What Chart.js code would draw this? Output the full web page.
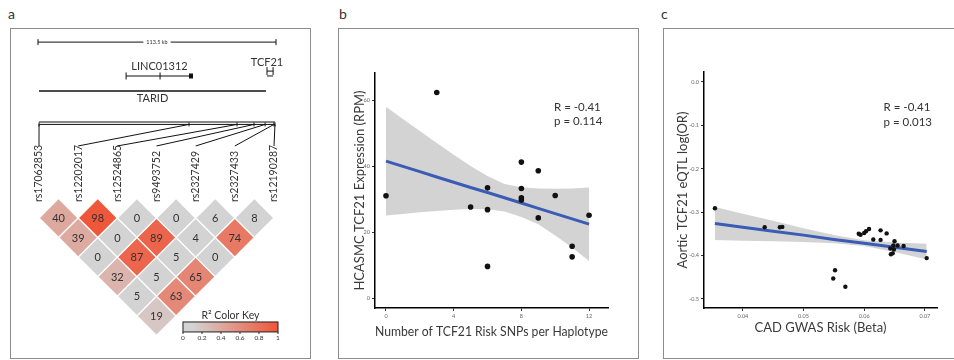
<!DOCTYPE html>
<html>
<head>
<meta charset="utf-8">
<script src="https://cdn.jsdelivr.net/npm/chart.js@4.4.0/dist/chart.umd.min.js"></script>
<style>
body{margin:0;width:954px;height:360px;background:#fff;position:relative;overflow:hidden;font-family:Lato,sans-serif;}
.lbl{position:absolute;font-size:14px;color:#333;line-height:16px;}
.box{position:absolute;border:1px solid #8c8c8c;box-sizing:border-box;}
canvas{position:absolute;}
</style>
</head>
<body>
<div class="lbl" style="left:8px;top:6px">a</div>
<div class="lbl" style="left:339px;top:6px">b</div>
<div class="lbl" style="left:661px;top:6px">c</div>
<div class="box" style="left:10px;top:28px;width:301px;height:331px"></div>
<div class="box" style="left:338px;top:28px;width:301px;height:331px"></div>
<div class="box" style="left:663px;top:28px;width:300px;height:331px"></div>
<canvas id="ldChart" width="300" height="330" style="left:10px;top:28px"></canvas>
<canvas id="exprChart" width="300" height="320" style="left:338px;top:28px"></canvas>
<canvas id="eqtlChart" width="291" height="320" style="left:663px;top:28px"></canvas>
<script>
// ---- panel a : LD block ----
const snpNames = ['rs17062853','rs12202017','rs12524865','rs9493752','rs2327429','rs2327433','rs12190287'];
const snpKb = [0.5, 72.0, 94.9, 103.0, 108.3, 112.5, 113.0];
// r2 * 100, row k holds the pairs (i, i+k+1)
const ldRows = [
  [40, 98, 0, 0, 6, 8],
  [39, 0, 89, 4, 74],
  [0, 87, 5, 0],
  [32, 5, 65],
  [5, 63],
  [19]
];
const regionKb = 113.5;
const lincKb = [42.0, 58.2, 73.9];
const lincExonKb = [72.0, 73.9];
const taridKb = [0.5, 108.7];
const tcf21Kb = [109.2, 112.1];
const keyTicks = [0, 0.2, 0.4, 0.6, 0.8, 1];

// ---- panel b ----
const riskSnps = [0, 3, 5, 6, 6, 6, 8, 8, 8, 8, 9, 9, 10, 11, 11, 12];
const exprRpm = [31.0, 62.3, 27.6, 33.4, 26.8, 9.6, 41.2, 33.2, 30.4, 29.7, 38.6, 24.3, 31.1, 15.7, 12.5, 25.1];
const fitBx = [0, 1, 2, 3, 4, 5, 6, 7, 8, 9, 10, 11, 12];
const fitB = [41.5, 39.9, 38.3, 36.7, 35.1, 33.5, 32.0, 30.4, 28.8, 27.2, 25.6, 24.0, 22.4];
const bandBHi = [58.0, 54.3, 50.6, 47.0, 43.4, 40.0, 37.0, 34.6, 33.6, 33.2, 33.1, 33.2, 33.5];
const bandBLo = [25.0, 25.5, 26.0, 26.4, 26.8, 27.0, 26.9, 26.2, 24.6, 22.4, 19.0, 15.3, 11.2];
const ticksBx = [0, 4, 8, 12];
const ticksBy = [0, 20, 40, 60];
const statsB = ['R = -0.41', 'p = 0.114'];

// ---- panel c ----
const cadBeta = [0.0354, 0.0436, 0.0461, 0.0465, 0.0591, 0.0594, 0.0600, 0.0603, 0.0608, 0.0615, 0.0627, 0.0627,
  0.0637, 0.0650, 0.0648, 0.0655, 0.0665, 0.0643, 0.0649, 0.0644, 0.0647, 0.0703, 0.0552, 0.0549, 0.0569];
const eqtlLogOR = [-0.291, -0.335, -0.335, -0.334, -0.350, -0.352, -0.348, -0.344, -0.339, -0.363, -0.342, -0.364,
  -0.349, -0.367, -0.377, -0.377, -0.378, -0.384, -0.386, -0.397, -0.395, -0.406, -0.434, -0.453, -0.472];
const fitCx = [0.0354, 0.040, 0.045, 0.050, 0.055, 0.060, 0.065, 0.0703];
const fitC = [-0.326, -0.335, -0.344, -0.353, -0.363, -0.372, -0.381, -0.391];
const bandCHi = [-0.288, -0.304, -0.320, -0.337, -0.353, -0.365, -0.370, -0.373];
const bandCLo = [-0.364, -0.366, -0.367, -0.369, -0.372, -0.378, -0.392, -0.409];
const ticksCx = [0.04, 0.05, 0.06, 0.07];
const ticksCy = [0, -0.1, -0.2, -0.3, -0.4, -0.5];
const statsC = ['R = -0.41', 'p = 0.013'];

// row levels of the gene track, in cell units (y grows downwards)
const rows = {scale: -3.99, lincLabel: -3.36, linc: -3.125, tcfLabel: -3.48, tcfTop: -3.25, tcfBot: -3.125,
  taridLabel: -2.54, tarid: -2.742, bracket: -1.95, bracket2: -1.888, connEnd: -1.338, snpLabel: 0.092};
const key = {x0: 3.676, x1: 6.102, y0: 3.155, y1: 3.41, title: 3.0, tickLab: 3.56};

const grayC = [211, 211, 211], redC = [240, 84, 56];
function ldColor(v) {
  const t = Math.max(0, Math.min(1, (v - 10) / 90));
  const c = grayC.map((g, i) => Math.round(g + (redC[i] - g) * t));
  return `rgb(${c[0]},${c[1]},${c[2]})`;
}

const cells = [];
ldRows.forEach((row, k) => row.forEach((v, i) => cells.push({x: i + (k + 1) / 2, y: (k + 1) / 2, v: v})));

const trackLine = (pts, w, extra) => Object.assign({
  data: pts, xAxisID: 'g', yAxisID: 'y', showLine: true, borderColor: '#111', borderWidth: w,
  pointRadius: 0, borderCapStyle: 'butt'
}, extra || {});

const ldPlugin = {
  id: 'ldText',
  afterDatasetsDraw(chart) {
    const {ctx, scales: {x, g, y}} = chart;
    ctx.save();
    ctx.fillStyle = '#333';
    ctx.textAlign = 'center';
    ctx.textBaseline = 'middle';
    ctx.font = '11px Lato';
    cells.forEach(c => ctx.fillText(String(c.v), x.getPixelForValue(c.x), y.getPixelForValue(c.y) + 0.5));

    // connectors from genomic position to label
    ctx.strokeStyle = '#111';
    ctx.lineWidth = 1;
    snpKb.forEach((kb, i) => {
      ctx.beginPath();
      ctx.moveTo(g.getPixelForValue(kb), y.getPixelForValue(rows.bracket2));
      ctx.lineTo(x.getPixelForValue(i), y.getPixelForValue(rows.connEnd));
      ctx.stroke();
    });

    ctx.font = '10.5px Lato';
    ctx.textAlign = 'left';
    snpNames.forEach((n, i) => {
      ctx.save();
      ctx.translate(x.getPixelForValue(i), y.getPixelForValue(rows.snpLabel));
      ctx.rotate(-Math.PI / 2);
      ctx.fillText(n, 0, 0);
      ctx.restore();
    });

    // gene names
    ctx.textAlign = 'center';
    ctx.font = '11px Lato';
    ctx.fillText('LINC01312', g.getPixelForValue((lincKb[0] + lincKb[2]) / 2), y.getPixelForValue(rows.lincLabel));
    ctx.fillText('TCF21', g.getPixelForValue(tcf21Kb[0]), y.getPixelForValue(rows.tcfLabel));
    ctx.fillText('TARID', g.getPixelForValue((taridKb[0] + taridKb[1]) / 2), y.getPixelForValue(rows.taridLabel));

    // scale bar label
    ctx.font = '5.5px Lato';
    const sx = g.getPixelForValue(regionKb / 2), sy = y.getPixelForValue(rows.scale);
    const tw = ctx.measureText(regionKb + ' kb').width;
    ctx.fillStyle = '#fff';
    ctx.fillRect(sx - tw / 2 - 3, sy - 3, tw + 6, 6);
    ctx.fillStyle = '#333';
    ctx.fillText(regionKb + ' kb', sx, sy);

    // colour key
    const kx0 = x.getPixelForValue(key.x0), kx1 = x.getPixelForValue(key.x1);
    const ky0 = y.getPixelForValue(key.y0), ky1 = y.getPixelForValue(key.y1);
    const grad = ctx.createLinearGradient(kx0, 0, kx1, 0);
    for (let i = 0; i <= 10; i++) grad.addColorStop(i / 10, ldColor(i * 10));
    ctx.fillStyle = grad;
    ctx.fillRect(kx0, ky0, kx1 - kx0, ky1 - ky0);
    ctx.strokeStyle = '#222';
    ctx.strokeRect(kx0, ky0, kx1 - kx0, ky1 - ky0);
    ctx.fillStyle = '#333';
    ctx.font = '10.5px Lato';
    ctx.fillText('R\u00B2 Color Key', (kx0 + kx1) / 2, y.getPixelForValue(key.title));
    ctx.font = '6.5px Lato';
    keyTicks.forEach(t => {
      const px = kx0 + t * (kx1 - kx0);
      ctx.beginPath();
      ctx.moveTo(px, ky1);
      ctx.lineTo(px, ky1 + 2);
      ctx.stroke();
      ctx.fillText(String(t), px, y.getPixelForValue(key.tickLab));
    });
    ctx.restore();
  }
};

new Chart(document.getElementById('ldChart'), {
  type: 'scatter',
  data: {datasets: [
    {data: cells, xAxisID: 'x', yAxisID: 'y', pointStyle: 'rectRot', pointRadius: 18.6, borderWidth: 0,
     pointBackgroundColor: cells.map(c => ldColor(c.v)), clip: false},
    trackLine([{x: 0, y: rows.scale}, {x: regionKb, y: rows.scale}], 1,
      {pointRadius: 3, pointStyle: 'line', rotation: 90, pointBorderColor: '#111', pointBorderWidth: 1}),
    trackLine(lincKb.map(k => ({x: k, y: rows.linc})), 1.2,
      {pointRadius: [3.5, 3.5, 0], pointStyle: 'line', rotation: 90, pointBorderColor: '#111', pointBorderWidth: 1}),
    trackLine(lincExonKb.map(k => ({x: k, y: rows.linc})), 5),
    trackLine(tcf21Kb.map(k => ({x: k, y: rows.tcfTop})), 1,
      {pointRadius: 4, pointStyle: 'line', rotation: 90, pointBorderColor: '#111', pointBorderWidth: 1}),
    trackLine(tcf21Kb.map(k => ({x: k, y: rows.tcfBot})), 1),
    trackLine(taridKb.map(k => ({x: k, y: rows.tarid})), 1.5),
    trackLine([{x: snpKb[0], y: rows.bracket}, {x: snpKb[6], y: rows.bracket}], 1),
    trackLine(snpKb.map(k => ({x: k, y: rows.bracket2})), 1,
      {pointRadius: 2, pointStyle: 'line', rotation: 90, pointBorderColor: '#111', pointBorderWidth: 1})
  ]},
  options: {
    responsive: false, animation: false, events: [],
    layout: {padding: 0, autoPadding: false},
    plugins: {legend: {display: false}, tooltip: {enabled: false}},
    scales: {
      x: {type: 'linear', display: false, min: -0.740, max: 6.919},
      g: {type: 'linear', display: false, min: -13.35, max: 129.7},
      y: {type: 'linear', display: false, reverse: true, min: -4.350, max: 4.075}
    }
  },
  plugins: [ldPlugin]
});

// ---- scatter panels ----
const annotPlugin = {
  id: 'annot',
  afterDatasetsDraw(chart, args, opts) {
    const {ctx, scales: {x, y}} = chart;
    ctx.save();
    ctx.font = '11.5px Lato';
    ctx.fillStyle = '#333';
    ctx.textAlign = 'left';
    ctx.textBaseline = 'middle';
    opts.lines.forEach((t, i) => ctx.fillText(t, x.getPixelForValue(opts.x), y.getPixelForValue(opts.y[i])));
    ctx.restore();
  }
};

function axis(o) {
  return {
    type: 'linear', min: o.min, max: o.max,
    afterBuildTicks: s => { s.ticks = o.ticks.map(v => ({value: v})); },
    afterFit: s => { if (o.width) s.width = o.width; if (o.height) s.height = o.height; },
    grid: {display: true, drawOnChartArea: false, drawTicks: true, tickLength: 3, color: '#333'},
    border: {display: true, color: '#000', width: 1.5},
    ticks: {font: {size: 5.5, family: 'Lato'}, color: '#666', padding: 2, maxRotation: 0, autoSkip: false,
            callback: o.fmt},
    title: {display: true, text: o.title, color: '#3a3a3a', font: {size: 13, family: 'Lato'}, padding: o.pad}
  };
}

function scatterSets(xs, ys, fx, fy, hi, lo, r) {
  return [
    {data: xs.map((v, i) => ({x: v, y: ys[i]})), pointRadius: r, pointBackgroundColor: '#111', pointBorderWidth: 0},
    {data: fx.map((v, i) => ({x: v, y: fy[i]})), showLine: true, borderColor: '#3b5cb4', borderWidth: 3, pointRadius: 0},
    {data: fx.map((v, i) => ({x: v, y: hi[i]})), showLine: true, borderWidth: 0, pointRadius: 0},
    {data: fx.map((v, i) => ({x: v, y: lo[i]})), showLine: true, borderWidth: 0, pointRadius: 0,
     fill: '-1', backgroundColor: 'rgba(200,200,200,0.8)'}
  ];
}

new Chart(document.getElementById('exprChart'), {
  type: 'scatter',
  data: {datasets: scatterSets(riskSnps, exprRpm, fitBx, fitB, bandBHi, bandBLo, 2.8)},
  options: {
    responsive: false, animation: false, events: [],
    layout: {padding: {left: 0, top: 45, right: 30, bottom: 0}, autoPadding: false},
    plugins: {legend: {display: false}, tooltip: {enabled: false},
      annot: {lines: statsB, x: 9.93, y: [57.9, 53.6]}},
    scales: {
      x: axis({min: -0.65, max: 13.12, ticks: ticksBx, height: 40, fmt: v => String(v),
        title: 'Number of TCF21 Risk SNPs per Haplotype', pad: {bottom: 8}}),
      y: axis({min: -3, max: 68.2, ticks: ticksBy, width: 37, fmt: v => String(v),
        title: 'HCASMC TCF21 Expression (RPM)', pad: {top: 14}})
    }
  },
  plugins: [annotPlugin]
});

new Chart(document.getElementById('eqtlChart'), {
  type: 'scatter',
  data: {datasets: scatterSets(cadBeta, eqtlLogOR, fitCx, fitC, bandCHi, bandCLo, 2.2)},
  options: {
    responsive: false, animation: false, events: [],
    layout: {padding: {left: 0, top: 44, right: 17, bottom: 0}, autoPadding: false},
    plugins: {legend: {display: false}, tooltip: {enabled: false},
      annot: {lines: statsC, x: 0.0632, y: [-0.0576, -0.092]}},
    scales: {
      x: axis({min: 0.0336, max: 0.0720, ticks: ticksCx, height: 40, fmt: v => v.toFixed(2),
        title: 'CAD GWAS Risk (Beta)', pad: {bottom: 12}}),
      y: axis({min: -0.521, max: 0.023, ticks: ticksCy, width: 41, fmt: v => v.toFixed(1),
        title: 'Aortic TCF21 eQTL log(OR)', pad: {top: 12}})
    }
  },
  plugins: [annotPlugin]
});
</script>
</body>
</html>
